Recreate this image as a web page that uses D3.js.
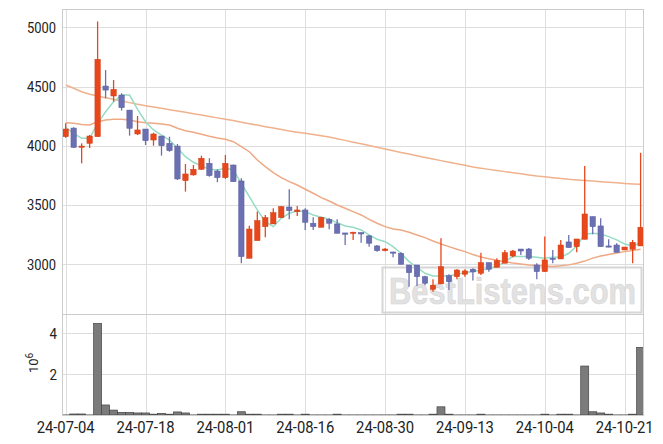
<!DOCTYPE html>
<html>
<head>
<meta charset="utf-8">
<script src="https://cdn.jsdelivr.net/npm/d3@7"></script>
<style>
  html, body { margin: 0; padding: 0; background: #fff; }
  svg { display: block; font-family: "Roboto", sans-serif; }
</style>
</head>
<body>
<div id="chart"></div>
<script>
// Daily candles with moving averages and volume, 24-07-04 .. 24-10-23

const dates = [
  "24-07-04","24-07-05","24-07-08","24-07-09","24-07-10","24-07-11","24-07-12","24-07-15","24-07-16","24-07-17",
  "24-07-18","24-07-19","24-07-22","24-07-23","24-07-24","24-07-25","24-07-26","24-07-29","24-07-30","24-07-31",
  "24-08-01","24-08-02","24-08-05","24-08-06","24-08-07","24-08-08","24-08-09","24-08-12","24-08-13","24-08-14",
  "24-08-16","24-08-19","24-08-20","24-08-21","24-08-22","24-08-23","24-08-26","24-08-27","24-08-28","24-08-29",
  "24-08-30","24-09-02","24-09-03","24-09-04","24-09-05","24-09-06","24-09-09","24-09-10","24-09-11","24-09-12",
  "24-09-13","24-09-19","24-09-20","24-09-23","24-09-24","24-09-25","24-09-26","24-09-27","24-09-30","24-10-02",
  "24-10-04","24-10-07","24-10-08","24-10-10","24-10-11","24-10-14","24-10-15","24-10-16","24-10-17","24-10-18",
  "24-10-21","24-10-22","24-10-23"
];

const opens = [
  4076,4149,3990,4020,4076,4504,4420,4428,4301,4099,
  4141,4048,4082,4020,3997,3705,3753,3801,3851,3786,
  3730,3837,3702,3049,3198,3316,3339,3392,3482,3443,
  3457,3345,3311,3378,3339,3263,3260,3266,3238,3153,
  3113,3102,3091,2992,2992,2893,2787,2832,2902,2893,
  2914,2956,2922,3012,2973,3007,3068,3127,3127,2992,
  2936,3049,3043,3187,3147,3209,3401,3322,3153,3161,
  3119,3125,3153
];
const highs = [
  4190,4155,4020,4090,5050,4639,4555,4443,4301,4251,
  4141,4110,4082,4076,4014,3845,3837,3916,3894,3800,
  3921,3840,3725,3324,3443,3415,3471,3490,3632,3491,
  3471,3395,3400,3387,3378,3263,3274,3266,3246,3160,
  3135,3105,3100,2992,2992,2902,2872,3218,2914,2956,
  2956,2964,3096,3012,3049,3119,3119,3127,3135,3007,
  3232,3119,3204,3246,3212,3829,3401,3387,3209,3176,
  3144,3204,3940
];
const lows = [
  4068,3980,3851,3980,4076,4400,4372,4296,4085,4090,
  4006,4000,3916,3949,3710,3612,3747,3795,3738,3691,
  3719,3694,3007,3049,3198,3226,3339,3392,3378,3406,
  3288,3288,3311,3294,3260,3161,3204,3181,3147,3105,
  3108,3058,2998,2809,2815,2821,2767,2832,2781,2872,
  2893,2860,2908,2936,2973,3007,3057,3077,3035,2872,
  2936,3007,3043,3139,3099,3209,3252,3147,3142,3099,
  3119,3007,3153
];
const closes = [
  4141,3986,3997,4082,4730,4470,4476,4321,4147,4133,
  4042,4099,4000,3958,3719,3761,3801,3894,3747,3730,
  3851,3696,3063,3296,3367,3392,3434,3485,3451,3457,
  3353,3316,3395,3345,3260,3252,3269,3254,3176,3113,
  3127,3093,2998,2927,2893,2838,2821,2978,2851,2950,
  2942,2933,3012,2956,3029,3096,3110,3110,3049,2936,
  3035,3041,3161,3139,3212,3423,3316,3147,3147,3099,
  3144,3184,3311
];

// volume in millions of shares
const volumes = [
  0.005,0.05,0.05,0.005,4.47,0.49,0.24,0.13,0.13,0.10,
  0.10,0.04,0.08,0.04,0.15,0.10,0.005,0.04,0.04,0.04,
  0.04,0.005,0.16,0.04,0.04,0.005,0.005,0.04,0.04,0.005,
  0.04,0.005,0.005,0.005,0.04,0.005,0.005,0.005,0.005,0.005,
  0.005,0.005,0.04,0.04,0.005,0.005,0.04,0.40,0.04,0.005,
  0.005,0.005,0.04,0.005,0.005,0.005,0.005,0.005,0.005,0.005,
  0.04,0.005,0.04,0.04,0.005,2.39,0.16,0.10,0.04,0.005,
  0.005,0.04,3.30
];

// moving averages
const ma5 = [
  4155,4105,4062,4062,4189,4287,4372,4428,4428,4307,
  4203,4133,4090,4048,3978,3907,3860,3830,3801,3795,
  3809,3795,3682,3570,3457,3358,3316,3387,3429,3449,
  3443,3415,3395,3378,3350,3322,3311,3288,3246,3209,
  3189,3147,3091,3021,2973,2922,2899,2899,2899,2914,
  2927,2940,2945,2964,2978,3021,3063,3063,3063,3057,
  3049,3057,3057,3091,3153,3252,3260,3254,3232,3204,
  3170,3153,3181
];
const ma20 = [
  4194,4189,4180,4175,4203,4217,4223,4223,4217,4203,
  4194,4189,4183,4175,4147,4127,4113,4096,4079,4065,
  4054,4034,3992,3949,3879,3823,3772,3730,3696,3668,
  3632,3598,3561,3533,3499,3471,3443,3415,3378,3345,
  3316,3296,3288,3269,3246,3223,3195,3170,3147,3125,
  3105,3080,3060,3045,3032,3020,3008,3000,2993,2988,
  2984,2980,2985,2993,3007,3025,3050,3068,3080,3093,
  3105,3115,3125
];
const ma60 = [
  4513,4485,4456,4434,4420,4406,4392,4378,4364,4350,
  4338,4327,4316,4304,4293,4282,4270,4259,4247,4235,
  4224,4212,4199,4186,4174,4161,4149,4136,4124,4114,
  4105,4095,4085,4073,4059,4045,4030,4016,4001,3986,
  3972,3957,3943,3929,3915,3901,3888,3874,3860,3847,
  3834,3820,3810,3800,3790,3781,3771,3762,3753,3744,
  3737,3730,3723,3716,3711,3706,3701,3696,3691,3686,
  3681,3677,3674
];

const priceTicks = [3000, 3500, 4000, 4500, 5000];
const volTicks = [2, 4];
const tickEvery = 10;

const width = 663;
const height = 444;
const left = 62, right = 643;
const mainTop = 9, mainBottom = 314;
const volBottom = 415;

const RED = "#e8471c";
const BLUE = "#6b70b3";
const GRID = "#dedede";
const SPINE = "#cccccc";

const idx = d3.range(dates.length);

const x = d3.scaleLinear().domain([-0.46, dates.length - 1 + 0.3]).range([left, right]);
const y = d3.scaleLinear().domain([2578, 5155]).range([mainBottom, mainTop]);
const yv = d3.scaleLinear().domain([0, 4.93]).range([volBottom, mainBottom]);

const svg = d3.select("#chart").append("svg")
  .attr("width", width)
  .attr("height", height);

svg.append("rect").attr("width", width).attr("height", height).attr("fill", "#fff");

const defs = svg.append("defs");
defs.append("clipPath").attr("id", "clipMain")
  .append("rect").attr("x", left).attr("y", mainTop)
  .attr("width", right - left).attr("height", mainBottom - mainTop);
defs.append("clipPath").attr("id", "clipVol")
  .append("rect").attr("x", left).attr("y", mainBottom)
  .attr("width", right - left).attr("height", volBottom - mainBottom);

const xTickIdx = idx.filter((i) => i % tickEvery === 0);

// ---- grid
const grid = svg.append("g").attr("stroke", GRID).attr("stroke-width", 1);
grid.selectAll("line.vx").data(xTickIdx).enter().append("line")
  .attr("x1", (i) => Math.round(x(i)) + 0.5).attr("x2", (i) => Math.round(x(i)) + 0.5)
  .attr("y1", mainTop).attr("y2", volBottom);
grid.selectAll("line.hy").data(priceTicks).enter().append("line")
  .attr("x1", left).attr("x2", right)
  .attr("y1", (d) => Math.round(y(d)) + 0.5).attr("y2", (d) => Math.round(y(d)) + 0.5);
grid.selectAll("line.hv").data(volTicks).enter().append("line")
  .attr("x1", left).attr("x2", right)
  .attr("y1", (d) => Math.round(yv(d)) + 0.5).attr("y2", (d) => Math.round(yv(d)) + 0.5);

// ---- watermark
const wm = svg.append("g");
wm.append("rect")
  .attr("x", 382.5).attr("y", 267.5).attr("width", 259).attr("height", 45)
  .attr("fill", "none").attr("stroke", "#d6d6d6").attr("stroke-width", 2);
wm.append("text")
  .attr("x", 389).attr("y", 304)
  .attr("textLength", 247).attr("lengthAdjust", "spacingAndGlyphs")
  .attr("font-family", "Liberation Sans, Arial, sans-serif")
  .attr("font-weight", "bold").attr("font-size", 37)
  .attr("fill", "#e2e2e2").attr("stroke", "#d4d4d4").attr("stroke-width", 0.6)
  .text("BestListens.com");

// ---- moving averages
const main = svg.append("g").attr("clip-path", "url(#clipMain)");
const line = (arr) => d3.line().x((i) => x(i)).y((i) => y(arr[i]))(idx);
main.append("path").attr("d", line(ma60)).attr("fill", "none")
  .attr("stroke", "#efb28c").attr("stroke-width", 1.5);
main.append("path").attr("d", line(ma20)).attr("fill", "none")
  .attr("stroke", "#eea985").attr("stroke-width", 1.5);
main.append("path").attr("d", line(ma5)).attr("fill", "none")
  .attr("stroke", "#96dcc4").attr("stroke-width", 1.5);

// ---- candles
const colorOf = (i) => (closes[i] >= opens[i] ? RED : BLUE);
const candle = main.append("g").selectAll("g").data(idx).enter().append("g");
candle.append("line")
  .attr("x1", (i) => x(i)).attr("x2", (i) => x(i))
  .attr("y1", (i) => y(highs[i])).attr("y2", (i) => y(lows[i]))
  .attr("stroke", colorOf).attr("stroke-width", 1.3);
candle.append("rect")
  .attr("x", (i) => x(i) - 2.7)
  .attr("width", 5.4)
  .attr("y", (i) => y(Math.max(opens[i], closes[i])))
  .attr("height", (i) => Math.max(1.2, Math.abs(y(opens[i]) - y(closes[i]))))
  .attr("fill", colorOf)
  .attr("stroke", (i) => (closes[i] >= opens[i] ? "#d23d12" : "#5a5e9e"))
  .attr("stroke-width", 0.5);

// ---- volume
const bw = x(1) - x(0);
svg.append("g").attr("clip-path", "url(#clipVol)")
  .selectAll("rect").data(idx).enter().append("rect")
  .attr("x", (i) => x(i) - bw / 2)
  .attr("width", bw)
  .attr("y", (i) => yv(volumes[i]))
  .attr("height", (i) => yv(0) - yv(volumes[i]))
  .attr("fill", "#7b7b7b")
  .attr("stroke", "#454545")
  .attr("stroke-width", 0.7);

// ---- spines
const spines = svg.append("g").attr("fill", "none").attr("stroke", SPINE).attr("stroke-width", 1);
spines.append("rect").attr("x", left + 0.5).attr("y", mainTop + 0.5)
  .attr("width", right - left).attr("height", mainBottom - mainTop);
spines.append("rect").attr("x", left + 0.5).attr("y", mainBottom + 0.5)
  .attr("width", right - left).attr("height", volBottom - mainBottom);

// ---- tick labels (narrow face: squeeze Roboto to the reference widths)
const lab = svg.append("g").attr("fill", "#222");
lab.selectAll("text.py").data(priceTicks).enter().append("text")
  .attr("x", 56).attr("y", (d) => y(d) + 5.5)
  .attr("text-anchor", "end").attr("font-size", 15)
  .attr("textLength", 29).attr("lengthAdjust", "spacingAndGlyphs")
  .text((d) => d);
lab.selectAll("text.vy").data(volTicks).enter().append("text")
  .attr("x", 57).attr("y", (d) => yv(d) + 5.5)
  .attr("text-anchor", "end").attr("font-size", 15)
  .attr("textLength", 7.5).attr("lengthAdjust", "spacingAndGlyphs")
  .text((d) => d);
lab.selectAll("text.xl").data(xTickIdx).enter().append("text")
  .attr("x", (i) => x(i)).attr("y", 433)
  .attr("text-anchor", "middle").attr("font-size", 16)
  .attr("textLength", 58).attr("lengthAdjust", "spacingAndGlyphs")
  .text((i) => dates[i]);

const expo = lab.append("text")
  .attr("transform", "translate(38,373) rotate(-90)")
  .attr("font-size", 13);
expo.append("tspan").text("10");
expo.append("tspan").attr("dy", -5).attr("font-size", 10).text("6");
</script>
</body>
</html>
